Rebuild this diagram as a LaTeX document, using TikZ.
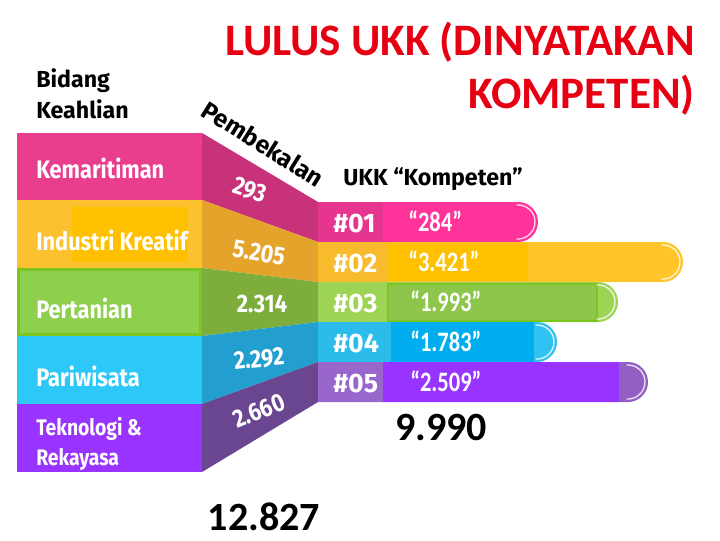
\documentclass[tikz,border=0pt]{standalone}
\usepackage{fontspec}
\setmainfont{Carlito}
\newfontfamily\hashfont{Fira Sans}
\newfontfamily\labfont[FakeStretch=0.86]{Fira Sans}
\newfontfamily\quotefont[FakeStretch=0.8]{Carlito}

\definecolor{titleRed}{HTML}{E60012}
\definecolor{pinkL}{HTML}{E93E8E}
\definecolor{pinkS}{HTML}{C8327A}
\definecolor{pinkR}{HTML}{FF3399}
\definecolor{pinkD}{HTML}{E6358E}
\definecolor{yelL}{HTML}{FBC12E}
\definecolor{yelIn}{HTML}{FFC000}
\definecolor{yelS}{HTML}{E4A42B}
\definecolor{yelR}{HTML}{FFC52B}
\definecolor{yelD}{HTML}{F7BB2D}
\definecolor{greL}{HTML}{8FCF4E}
\definecolor{greB}{HTML}{7CC41E}
\definecolor{greS}{HTML}{7DAD3B}
\definecolor{greR}{HTML}{9ED456}
\definecolor{greIn}{HTML}{8DC64B}
\definecolor{cyaL}{HTML}{2DC8F7}
\definecolor{cyaS}{HTML}{239FCF}
\definecolor{cyaR}{HTML}{30C2F2}
\definecolor{cyaD}{HTML}{2BBCEC}
\definecolor{cyaIn}{HTML}{00AEEF}
\definecolor{purL}{HTML}{9933FF}
\definecolor{purS}{HTML}{6A4590}
\definecolor{purR}{HTML}{935FC2}
\definecolor{purD}{HTML}{9966CC}

\tikzset{
  bidang/.style={anchor=base west, inner sep=0pt, text=white, font=\labfont\bfseries\fontsize{18}{20}\selectfont},
  bidangkecil/.style={bidang, font=\labfont\bfseries\fontsize{16}{18}\selectfont},
  jumlah/.style={inner sep=0pt, text=white, font=\labfont\bfseries\fontsize{18}{20}\selectfont},
  nomor/.style={anchor=base west, inner sep=0pt, text=white, font=\hashfont\bfseries\fontsize{19}{21}\selectfont},
  nilai/.style={anchor=base west, inner sep=0pt, text=white, font=\quotefont\bfseries\fontsize{20}{22}\selectfont},
  judul/.style={anchor=base east, inner sep=0pt, text=titleRed, font=\bfseries\fontsize{32}{38}\selectfont},
  kepala/.style={inner sep=0pt, font=\hashfont\bfseries\fontsize{16.5}{19}\selectfont},
  total/.style={anchor=base, inner sep=0pt, font=\bfseries\fontsize{28.5}{32}\selectfont},
  ujung/.style={white, line width=0.9pt, opacity=0.85},
}

\begin{document}
\begin{tikzpicture}[x=0.025cm, y=-0.025cm]
    \useasboundingbox (0,0) rectangle (720,540);

    % blok bidang keahlian
    \fill[pinkL] (17,133) rectangle (202,200);
    \fill[yelL] (17,200) rectangle (202,268);
    \fill[yelIn] (72,207) rectangle (188,262);
    \fill[greL] (17,268) rectangle (202,336);
    \draw[greB, line width=2pt] (18.5,269.5) rectangle (200.5,334.5);
    \fill[cyaL] (17,336) rectangle (202,404);
    \fill[purL] (17,404) rectangle (202,472);

    % bagian miring (pembekalan)
    \fill[pinkS] (202,133) -- (318,202) -- (318,242) -- (202,200) -- cycle;
    \fill[yelS] (202,200) -- (318,242) -- (318,282) -- (202,268) -- cycle;
    \fill[greS] (202,268) -- (318,282) -- (318,322) -- (202,336) -- cycle;
    \fill[cyaS] (202,336) -- (318,322) -- (318,362) -- (202,404) -- cycle;
    \fill[purS] (202,404) -- (318,362) -- (318,402) -- (202,472) -- cycle;

    % batang UKK kompeten
    \fill[pinkR] (318,202) -- (518,202) arc (-90:90:20) -- (318,242) -- cycle;
    \fill[pinkD] (318,202) rectangle (383,242);
    \draw[ujung] (518,222) ++(-95:17) arc (-95:95:17);

    \fill[yelR] (318,242) -- (663,242) arc (-90:90:20) -- (318,282) -- cycle;
    \fill[yelD] (318,242) rectangle (387,282);
    \fill[yelIn] (387,243) rectangle (528,281);
    \draw[ujung] (663,262) ++(-95:17) arc (-95:95:17);

    \fill[greR] (318,282) -- (598,282) arc (-90:90:20) -- (318,322) -- cycle;
    \draw[greB, fill=greIn, line width=2pt] (388,284) rectangle (597,321);
    \draw[ujung] (598,302) ++(-95:17) arc (-95:95:17);

    \fill[cyaR] (318,322) -- (537,322) arc (-90:90:20) -- (318,362) -- cycle;
    \fill[cyaD] (318,322) rectangle (391,362);
    \fill[cyaIn] (391,322) rectangle (534,362);
    \draw[ujung] (537,342) ++(-95:17) arc (-95:95:17);

    \fill[purR] (318,362) -- (628,362) arc (-90:90:20) -- (318,402) -- cycle;
    \fill[purD] (318,362) rectangle (383,402);
    \fill[purL] (383,362) rectangle (619,402);
    \draw[ujung] (628,382) ++(-95:17) arc (-95:95:17);

    % judul
    \node[judul] (judul1) at (695,55) {LULUS UKK (DINYATAKAN};
    \node[judul] (judul2) at (695,108) {KOMPETEN)};

    % kepala kolom
    \node[kepala, anchor=base west] (bidang) at (36,87) {Bidang};
    \node[kepala, anchor=base west] (keahlian) at (36,118) {Keahlian};
    \node[kepala, font=\hashfont\bfseries\fontsize{17.5}{20}\selectfont, rotate=-32] (pembekalan) at (263,144) {Pembekalan};
    \node[kepala, anchor=base west] (ukk) at (343,185) {UKK “Kompeten”};

    % nama bidang
    \node[bidang] (kemaritiman) at (36,178) {Kemaritiman};
    \node[bidang] (industri) at (36,250) {Industri Kreatif};
    \node[bidang] (pertanian) at (36,318) {Pertanian};
    \node[bidang] (pariwisata) at (36,386) {Pariwisata};
    \node[bidangkecil] (teknologi) at (36,435) {Teknologi \&};
    \node[bidangkecil] (rekayasa) at (36,465) {Rekayasa};

    % jumlah pembekalan
    \node[jumlah, rotate=-18] (p1) at (250,190) {293};
    \node[jumlah, rotate=-10] (p2) at (259,253) {5.205};
    \node[jumlah] (p3) at (262,304) {2.314};
    \node[jumlah, rotate=6] (p4) at (259,359) {2.292};
    \node[jumlah, rotate=22] (p5) at (259,411) {2.660};

    % nomor dan nilai kompeten
    \node[nomor] (n1) at (333,232) {\#01};
    \node[nomor] (n2) at (333,272) {\#02};
    \node[nomor] (n3) at (333,312) {\#03};
    \node[nomor] (n4) at (333,352) {\#04};
    \node[nomor] (n5) at (333,392) {\#05};
    \node[nilai] (k1) at (408,231) {“284”};
    \node[nilai] (k2) at (408,271) {“3.421”};
    \node[nilai] (k3) at (410,311) {“1.993”};
    \node[nilai] (k4) at (410,351) {“1.783”};
    \node[nilai] (k5) at (410,391) {“2.509”};

    % total
    \node[total] (totalukk) at (441,440) {9.990};
    \node[total] (totalbekal) at (264,530) {12.827};
\end{tikzpicture}
\end{document}
